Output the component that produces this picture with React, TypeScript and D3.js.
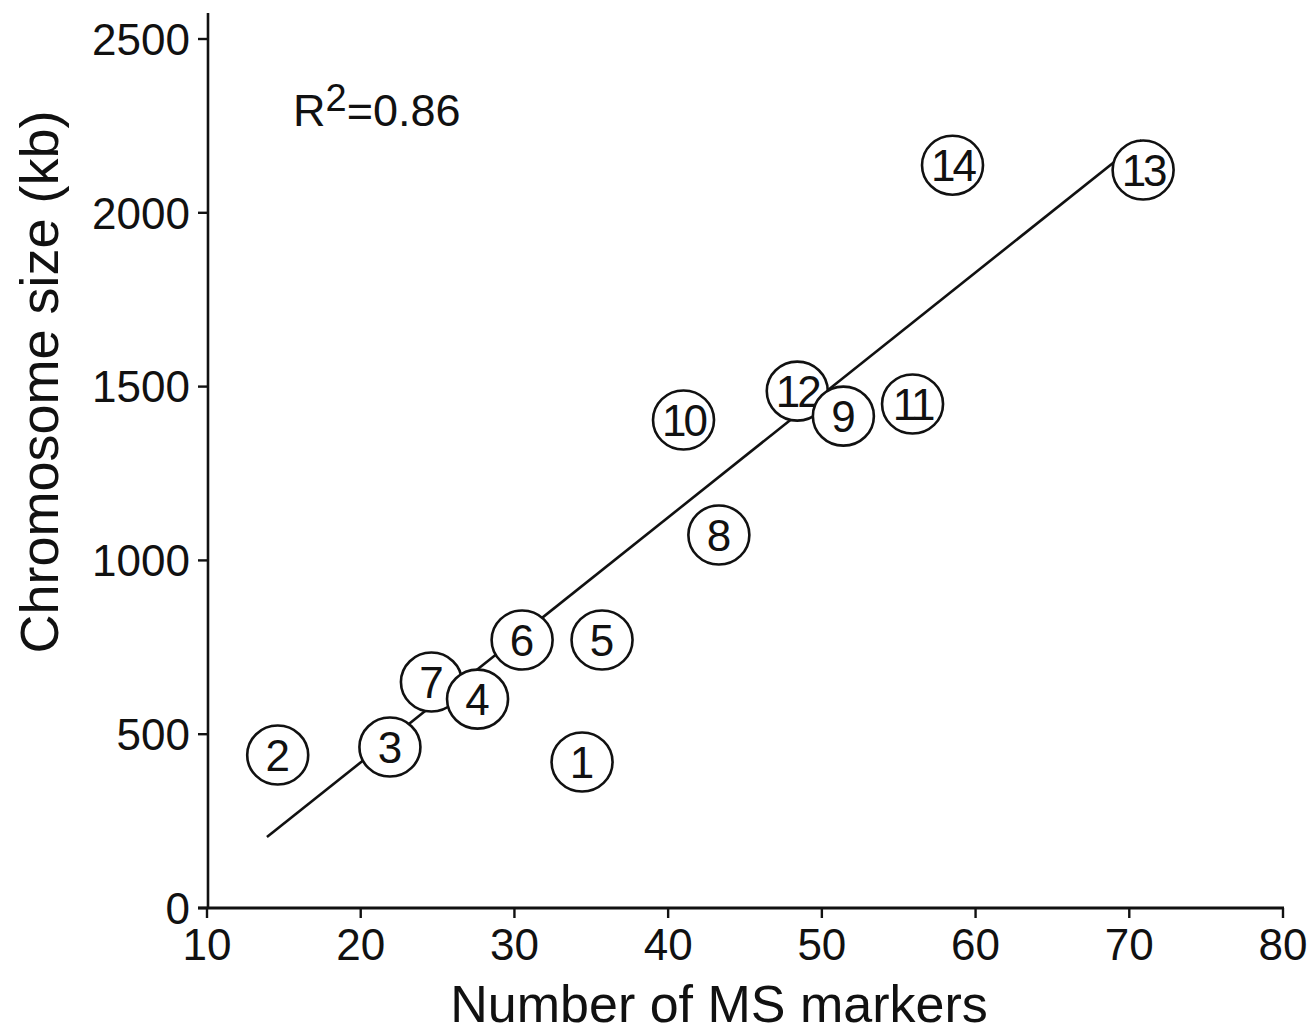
import React from "react";
import * as d3 from "d3";

// Data
const chromosomeIds = ["1", "2", "3", "4", "5", "6", "7", "8", "9", "10", "11", "12", "13", "14"];
const msMarkers = [34.4, 14.6, 21.9, 27.6, 35.7, 30.5, 24.6, 43.3, 51.4, 41.0, 55.9, 48.4, 70.9, 58.5];
const chromosomeSizeKb = [420, 440, 463, 601, 771, 771, 650, 1073, 1415, 1404, 1450, 1487, 2123, 2137];
const fitX = [13.9, 70.8];
const fitY = [204, 2209];
const xTicks = [10, 20, 30, 40, 50, 60, 70, 80];
const yTicks = [0, 500, 1000, 1500, 2000, 2500];
const rSquaredLabel = "0.86";

const W = 1311;
const H = 1034;
const FONT = "'Liberation Sans', Arial, Helvetica, sans-serif";

export default function App() {
  const x = d3.scaleLinear().domain([10, 80]).range([207, 1283]);
  const y = d3.scaleLinear().domain([0, 2500]).range([908, 39]);

  const line = d3
    .line<number>()
    .x((_, i) => x(fitX[i]))
    .y((_, i) => y(fitY[i]));

  const points = chromosomeIds
    .map((id, i) => ({ id, mx: msMarkers[i], sz: chromosomeSizeKb[i] }))
    .sort((a, b) => b.sz - a.sz);

  return (
    <svg
      width={W}
      height={H}
      style={{ position: "absolute", left: 0, top: 0, background: "#fff" }}
      fontFamily={FONT}
    >
      <rect x={0} y={0} width={W} height={H} fill="#fff" />
      {/* Y axis */}
      <line x1={208} x2={208} y1={13} y2={909} stroke="#111" strokeWidth={2.6} />
      {yTicks.map((t) => (
        <g key={"y" + t}>
          <line x1={198} x2={208} y1={y(t)} y2={y(t)} stroke="#111" strokeWidth={2.4} />
          <text x={190} y={y(t)} dy="0.36em" textAnchor="end" fontSize={44} fill="#111">
            {t}
          </text>
        </g>
      ))}
      {/* X axis */}
      <line x1={198} x2={1284} y1={908} y2={908} stroke="#111" strokeWidth={3} />
      {xTicks.map((t) => (
        <g key={"x" + t}>
          <line x1={x(t)} x2={x(t)} y1={908} y2={918} stroke="#111" strokeWidth={2.4} />
          <text x={x(t)} y={960} textAnchor="middle" fontSize={44} fill="#111">
            {t}
          </text>
        </g>
      ))}
      {/* Axis titles */}
      <text x={719} y={1022} textAnchor="middle" fontSize={52} fill="#111">
        Number of MS markers
      </text>
      <text
        transform={`translate(58,382) rotate(-90)`}
        textAnchor="middle"
        fontSize={54}
        fill="#111"
      >
        Chromosome size (kb)
      </text>
      {/* R^2 */}
      <text x={293} y={126} fontSize={45} fill="#111">
        R
        <tspan fontSize={38} dy={-15}>2</tspan>
        <tspan dy={15}>={rSquaredLabel}</tspan>
      </text>
      {/* Regression line */}
      <path d={line(fitX) || ""} fill="none" stroke="#111" strokeWidth={2.6} />
      {/* Points */}
      {points.map((p) => (
        <g key={p.id}>
          <ellipse cx={x(p.mx)} cy={y(p.sz)} rx={30.5} ry={29.5} fill="#fff" stroke="#111" strokeWidth={2.6} />
          <text
            x={x(p.mx)}
            y={y(p.sz)}
            dy="0.36em"
            textAnchor="middle"
            fontSize={44}
            letterSpacing={p.id.length > 1 ? -3 : 0}
            fill="#111"
          >
            {p.id}
          </text>
        </g>
      ))}
    </svg>
  );
}
